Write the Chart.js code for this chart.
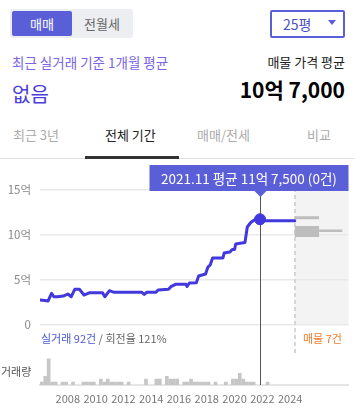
<!DOCTYPE html>
<html><head><meta charset="utf-8">
<script src="https://cdn.jsdelivr.net/npm/chart.js@4.4.1/dist/chart.umd.min.js"></script>
<style>
body{margin:0;width:355px;height:410px;position:relative;background:#fff;font-family:"Noto Sans CJK KR","Noto Sans",sans-serif;overflow:hidden}
.a{position:absolute;white-space:nowrap}
</style></head><body>
<div class="a" style="left:10px;top:9px;width:123px;height:29px;background:#eceef1;border-radius:3px"></div>
<div class="a" style="left:12px;top:11px;width:60px;height:25px;background:#5a5fd7;border-radius:2px;color:#fff;font-size:13px;line-height:25px;text-align:center">매매</div>
<div class="a" style="left:72px;top:11px;width:60px;height:25px;color:#666;font-size:13px;line-height:25px;text-align:center">전월세</div>
<div class="a" style="left:270px;top:10px;width:71px;height:24px;border:2px solid #5a5fd7;border-radius:2px"></div>
<div class="a" style="left:283px;top:14px;font-size:14px;line-height:20px;color:#4b4fc8">25평</div>
<div class="a" style="left:328px;top:20px;width:0;height:0;border-left:4px solid transparent;border-right:4px solid transparent;border-top:5px solid #5a5fd7"></div>

<div class="a" style="left:12px;top:54px;font-size:13.5px;line-height:16px;color:#7a64e8">최근 실거래 기준 1개월 평균</div>
<div class="a" style="left:12px;top:83px;font-size:20px;line-height:22px;color:#4b3bd8">없음</div>
<div class="a" style="right:10px;top:54px;font-size:13px;line-height:16px;color:#222">매물 가격 평균</div>
<div class="a" style="right:10px;top:78px;font-size:21px;line-height:23px;font-weight:bold;color:#000">10억 7,000</div>

<div class="a" style="left:13px;top:127px;font-size:13px;line-height:16px;color:#aaa">최근 3년</div>
<div class="a" style="left:105px;top:127px;font-size:13px;line-height:16px;color:#222">전체 기간</div>
<div class="a" style="left:197px;top:127px;font-size:13px;line-height:16px;color:#aaa">매매/전세</div>
<div class="a" style="left:307px;top:127px;font-size:13px;line-height:16px;color:#aaa">비교</div>
<div class="a" style="left:0;top:158px;width:355px;height:1px;background:#e0e0e0"></div>
<div class="a" style="left:85px;top:156px;width:94px;height:3px;background:#333"></div>

<canvas id="c" width="355" height="250" style="position:absolute;left:0;top:160px"></canvas>

<div class="a" style="left:41px;top:331px;font-size:11px;line-height:14px;color:#666"><span style="color:#4a56d8">실거래 92건</span> / 회전율 121%</div>
<div class="a" style="left:303px;top:331px;font-size:11px;line-height:14px;color:#f07b2a">매물 7건</div>
<div class="a" style="left:1px;top:364px;font-size:11px;line-height:14px;color:#555">거래량</div>

<script>
// ---- data ----
const priceMonths = ['2006.01','2006.05','2006.08','2006.11','2007.01','2007.04','2007.09','2008.01','2008.04','2008.07','2008.11','2009.03','2009.08','2010.07','2010.09','2011.01','2011.05','2013.05','2013.07','2013.09','2014.05','2014.07','2015.04','2015.06','2015.10','2016.07','2016.08','2016.10','2017.04','2017.06','2017.12','2018.02','2018.04','2018.06','2019.03','2019.04','2019.09','2019.11','2020.01','2020.02','2020.10','2020.12','2021.03','2021.06','2021.11','2022.03','2024.05'];
const priceAvg = [2.78,2.72,2.67,3.52,3.14,3.14,3.22,3.44,3.14,3.97,3.97,3.33,3.59,3.59,3.14,3.81,3.63,3.63,3.39,3.63,3.63,3.89,3.97,4.26,4.52,4.52,4.28,4.67,4.70,5.44,5.67,6.44,6.67,7.44,7.44,8.0,8.11,8.39,8.39,9.0,9.17,10.89,11.39,11.67,11.75,11.59,11.59];
const selectedMonth = '2021.11';
const selectedAvg = 11.75;
const selectedCount = 0;

const volQuarters = ['2006Q1','2006Q2','2006Q3','2006Q4','2007Q1','2007Q3','2007Q4','2008Q2','2009Q1','2009Q2','2009Q3','2009Q4','2010Q2','2010Q3','2010Q4','2011Q1','2011Q2','2011Q3','2011Q4','2012Q2','2013Q3','2014Q2','2014Q3','2015Q1','2015Q2','2015Q3','2015Q4','2016Q2','2016Q3','2016Q4','2017Q1','2017Q2','2017Q3','2017Q4','2018Q1','2018Q3','2019Q2','2019Q4','2020Q1','2020Q2','2020Q3','2020Q4','2021Q1','2021Q2','2022Q2'];
const volCounts   = [1,3,9,1,1,1,1,1,1,1,1,1,2,1,2,1,1,1,1,1,2,2,2,3,2,2,2,1,1,2,1,1,1,1,1,1,1,2,2,4,2,1,1,1,1];

const listingMonths = ['2024.05','2026.02','2027.10'];
const listingHigh = 11.92;   // upper listing level
const listingMid = 10.40;    // main listing block
const listingTail = 10.48;   // extended listing line

const yearTicks = [2008,2010,2012,2014,2016,2018,2020,2022,2024];
const priceTicks = [0,5,10,15];

// ---- helpers ----
const ym = s => { const [y,m] = s.split('.').map(Number); return y + (m-1)/12; };
const qx = s => { const y = +s.slice(0,4), q = +s.slice(5); return y + (q-1)*0.25 + 0.125; };
const fmtEok = v => { const e = Math.floor(v); const m = Math.round((v-e)*10000); return e + '억' + (m ? ' ' + m.toLocaleString('en-US') : ''); };

const FONT = '"Noto Sans CJK KR","Noto Sans",sans-serif';
const LINE = '#4139dd';
const PURPLE = '#5a5fd7';

const overlay = {
  id: 'overlay',
  beforeDraw(chart) {
    const {ctx, chartArea: a, scales: {x, y}} = chart;
    const x0 = x.getPixelForValue(ym(priceMonths[priceMonths.length-1]));
    ctx.save();
    ctx.fillStyle = '#f3f3f3';
    ctx.fillRect(x0, a.top, a.right - x0, y.getPixelForValue(0) - a.top);
    ctx.restore();
  },
  beforeDatasetsDraw(chart) {
    const {ctx, chartArea: a, scales: {x, y}} = chart;
    const x0 = Math.round(x.getPixelForValue(ym(priceMonths[priceMonths.length-1])));
    ctx.save();
    ctx.strokeStyle = '#d6d6d6'; ctx.lineWidth = 2; ctx.setLineDash([4,3]);
    ctx.beginPath(); ctx.moveTo(x0, a.top); ctx.lineTo(x0, y.getPixelForValue(0) + 28); ctx.stroke();
    ctx.setLineDash([]);
    const cx = Math.round(x.getPixelForValue(ym(selectedMonth))) + 0.5;
    ctx.strokeStyle = '#555'; ctx.lineWidth = 1;
    ctx.beginPath(); ctx.moveTo(cx, 31); ctx.lineTo(cx, a.bottom); ctx.stroke();
    ctx.restore();
  },
  afterDraw(chart) {
    const {ctx, chartArea: a, scales: {x}} = chart;
    const cx = Math.round(x.getPixelForValue(ym(selectedMonth))) + 0.5;
    const w = 199, top = 5, h = 26;
    let left = cx - w/2; if (left + w > a.right) left = a.right - w;
    ctx.save();
    ctx.fillStyle = PURPLE;
    ctx.fillRect(left, top, w, h);
    ctx.beginPath(); ctx.moveTo(cx-6, top+h); ctx.lineTo(cx+6, top+h); ctx.lineTo(cx, top+h+6); ctx.closePath(); ctx.fill();
    ctx.fillStyle = '#fff'; ctx.font = '13.5px ' + FONT; ctx.textAlign = 'center'; ctx.textBaseline = 'middle';
    ctx.fillText(`${selectedMonth} 평균 ${fmtEok(selectedAvg)} (${selectedCount}건)`, left + w/2, top + h/2 + 1);
    ctx.restore();
  }
};

new Chart(document.getElementById('c'), {
  type: 'line',
  data: {
    datasets: [
      { data: [{x: ym(selectedMonth), y: selectedAvg}], borderColor: LINE, backgroundColor: LINE, pointRadius: 5.5, showLine: false, order: 0 },
      { data: priceMonths.map((m,i) => ({x: ym(m), y: priceAvg[i]})), borderColor: LINE, borderWidth: 3, pointRadius: 0, tension: 0, borderJoinStyle: 'round', borderCapStyle: 'round', order: 1 },
      { data: [{x: ym(listingMonths[0]), y: listingHigh}, {x: ym(listingMonths[1]), y: listingHigh}], borderColor: '#bdbdbd', borderWidth: 3, pointRadius: 0, borderCapStyle: 'butt', order: 2 },
      { data: [{x: ym(listingMonths[0]), y: listingMid}, {x: ym(listingMonths[1]), y: listingMid}], borderColor: '#bdbdbd', borderWidth: 11, pointRadius: 0, borderCapStyle: 'butt', order: 2 },
      { data: [{x: ym(listingMonths[1]), y: listingTail}, {x: ym(listingMonths[2]), y: listingTail}], borderColor: '#bdbdbd', borderWidth: 2.5, pointRadius: 0, borderCapStyle: 'butt', order: 2 },
      { type: 'bar', yAxisID: 'yVol', data: volQuarters.map((q,i) => ({x: qx(q), y: volCounts[i]})), backgroundColor: '#c6c6c6', barThickness: 3, order: 3 }
    ]
  },
  options: {
    responsive: false, animation: false, events: [],
    layout: { padding: { top: 21, right: 4, left: 0, bottom: 0 } },
    plugins: { legend: { display: false }, tooltip: { enabled: false } },
    scales: {
      x: {
        type: 'linear', min: 2006, max: 2028.2, offset: false,
        afterBuildTicks: s => { s.ticks = yearTicks.map(v => ({value: v})); },
        afterFit: s => { s.height = 25; },
        grid: { display: false, drawTicks: false, offset: false },
        border: { display: true, color: '#e6e6e6', width: 2 },
        ticks: { padding: 7, color: '#777', font: { family: FONT, size: 11 }, maxRotation: 0, autoSkip: false, callback: v => String(v) }
      },
      y: {
        min: -6.667, max: 16,
        afterBuildTicks: s => { s.ticks = priceTicks.map(v => ({value: v})); },
        afterFit: s => { s.width = 40; },
        grid: { color: '#e9e9e9', lineWidth: 1.5, drawTicks: false },
        border: { display: false },
        ticks: { padding: 9, color: '#888', font: { family: FONT, size: 11.5 }, callback: v => v === 0 ? '0' : v + '억' }
      },
      yVol: { display: false, min: 0, max: 70 }
    }
  },
  plugins: [overlay]
});
</script>
</body></html>
